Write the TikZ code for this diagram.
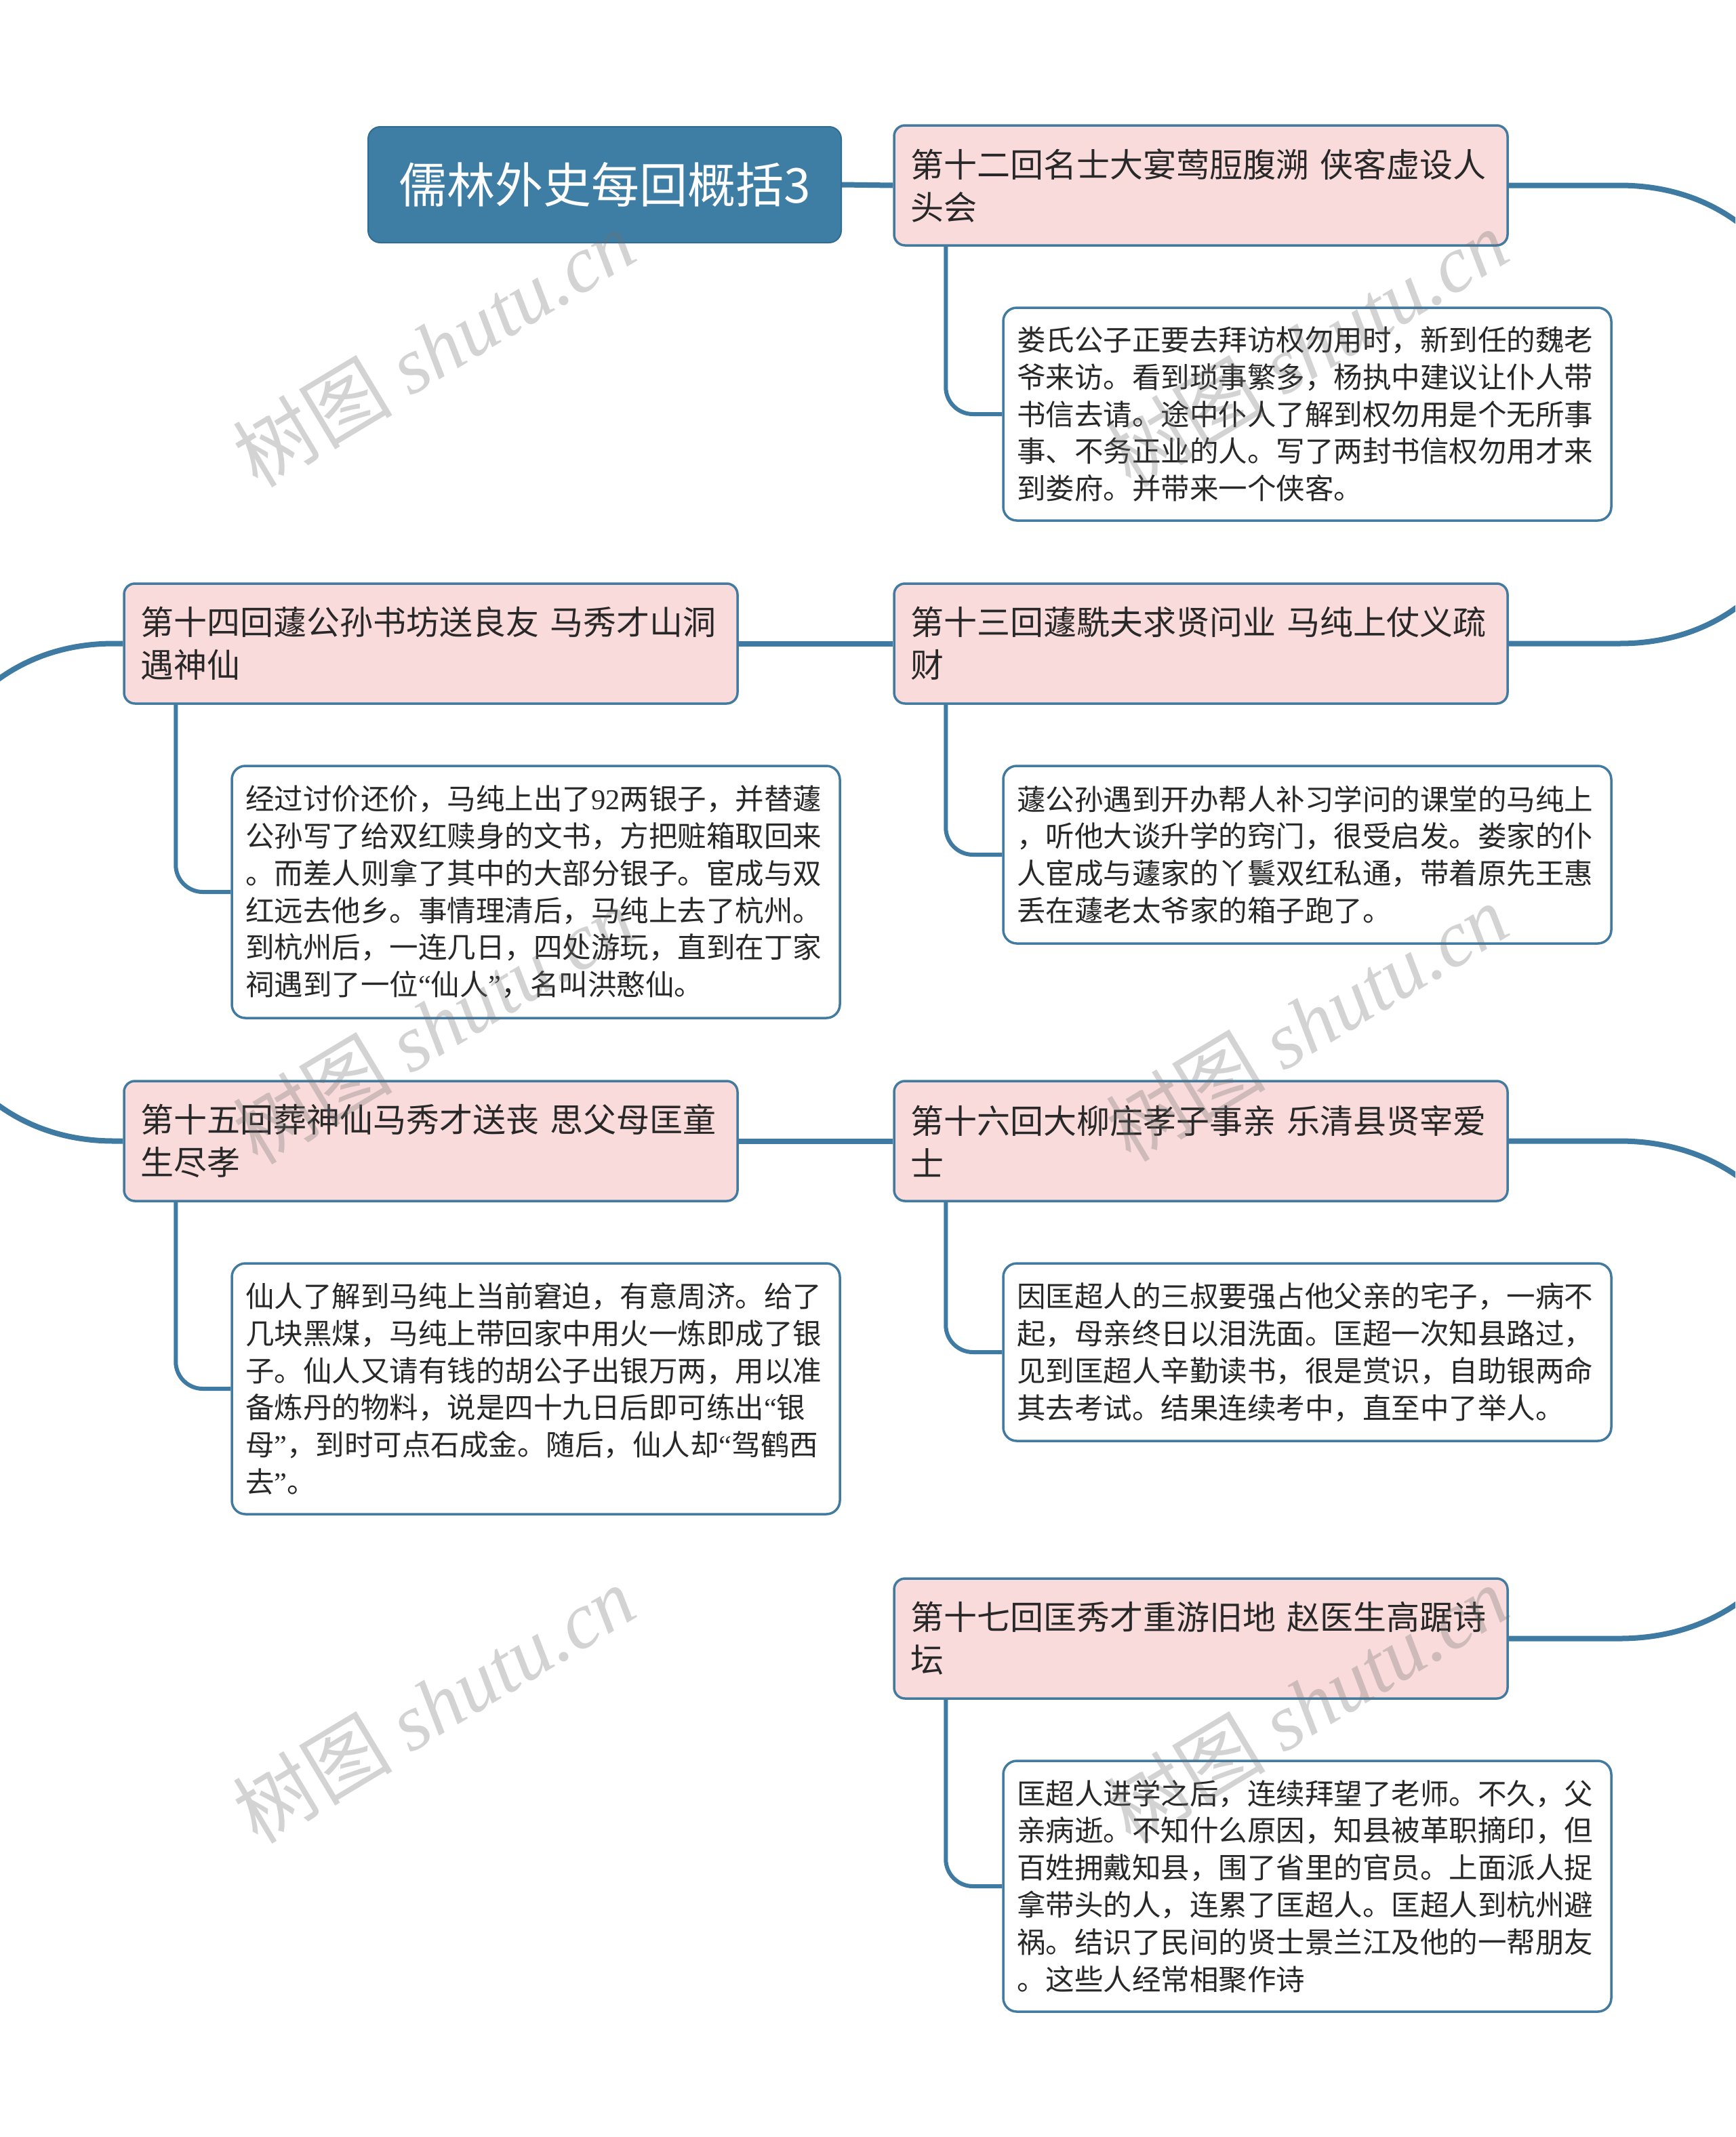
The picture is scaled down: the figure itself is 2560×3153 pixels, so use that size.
\documentclass[tikz,border=0pt]{standalone}
\usepackage{fontspec}
\setmainfont{Noto Sans CJK SC}
\newfontfamily\wmlatin{Liberation Serif}
\newfontfamily\numfont{Liberation Serif}
\newcommand\myqo{{\numfont “}}
\newcommand\myqc{{\numfont ”}}
\usetikzlibrary{backgrounds}
\definecolor{lineblue}{RGB}{62,122,162}
\definecolor{titlefill}{RGB}{62,126,164}
\definecolor{titledraw}{RGB}{50,108,145}
\definecolor{pinkfill}{RGB}{250,219,219}
\definecolor{boxdraw}{RGB}{66,122,160}
\definecolor{txt}{RGB}{40,40,40}
\definecolor{wm}{RGB}{110,110,110}
\begin{document}
\begin{tikzpicture}[x=1pt,y=-1pt,
 titlebox/.style={rectangle, rounded corners=18, fill=titlefill, draw=titledraw, line width=2, minimum width=698, minimum height=171, inner sep=0, text=white, font=\fontsize{71}{84}\selectfont},
 topic/.style={rectangle, rounded corners=16, fill=pinkfill, draw=boxdraw, line width=3.5, minimum width=905, minimum height=177, text width=857, inner xsep=24, inner ysep=0, align=left, text=txt, font=\fontsize{49}{63}\selectfont},
 detail/.style={rectangle, rounded corners=20, fill=white, draw=boxdraw, line width=3.5, minimum width=897, text width=857, inner xsep=20, inner ysep=0, align=left, text=txt, font=\fontsize{42.5}{54.8}\selectfont},
 mainline/.style={draw=lineblue, line width=8},
 childline/.style={draw=lineblue, line width=6, rounded corners=40},
 watermark/.style={text=wm, text opacity=0.3, rotate=31, font=\fontsize{118}{118}\selectfont}
]
\path[use as bounding box] (0,0) rectangle (2560,3153);

% main nodes
\node[titlebox] (title) at (892,272.5) {儒林外史每回概括3};
\node[topic] (n12) at (1771.5,273.5) {第十二回名士大宴莺脰腹溯 侠客虚设人\\头会};
\node[topic] (n13) at (1771.5,949.5) {第十三回蘧駪夫求贤问业 马纯上仗义疏\\财};
\node[topic] (n14) at (635.5,949.5) {第十四回蘧公孙书坊送良友 马秀才山洞\\遇神仙};
\node[topic] (n15) at (635.5,1683.5) {第十五回葬神仙马秀才送丧 思父母匡童\\生尽孝};
\node[topic] (n16) at (1771.5,1683.5) {第十六回大柳庄孝子事亲 乐清县贤宰爱\\士};
\node[topic] (n17) at (1771.5,2417.5) {第十七回匡秀才重游旧地 赵医生高踞诗\\坛};

% detail nodes
\node[detail, minimum height=314] (c12) at (1928.5,611) {娄氏公子正要去拜访权勿用时，新到任的魏老\\爷来访。看到琐事繁多，杨执中建议让仆人带\\书信去请。途中仆人了解到权勿用是个无所事\\事、不务正业的人。写了两封书信权勿用才来\\到娄府。并带来一个侠客。};
\node[detail, minimum height=262] (c13) at (1928.5,1261) {蘧公孙遇到开办帮人补习学问的课堂的马纯上\\，听他大谈升学的窍门，很受启发。娄家的仆\\人宦成与蘧家的丫鬟双红私通，带着原先王惠\\丢在蘧老太爷家的箱子跑了。};
\node[detail, minimum height=372] (c14) at (790.5,1316) {经过讨价还价，马纯上出了{\numfont 92}两银子，并替蘧\\公孙写了给双红赎身的文书，方把赃箱取回来\\。而差人则拿了其中的大部分银子。宦成与双\\红远去他乡。事情理清后，马纯上去了杭州。\\到杭州后，一连几日，四处游玩，直到在丁家\\祠遇到了一位\myqo 仙人\myqc，名叫洪憨仙。};
\node[detail, minimum height=370] (c15) at (790.5,2049) {仙人了解到马纯上当前窘迫，有意周济。给了\\几块黑煤，马纯上带回家中用火一炼即成了银\\子。仙人又请有钱的胡公子出银万两，用以准\\备炼丹的物料，说是四十九日后即可练出\myqo 银\\母\myqc，到时可点石成金。随后，仙人却\myqo 驾鹤西\\去\myqc。};
\node[detail, minimum height=262] (c16) at (1928.5,1995) {因匡超人的三叔要强占他父亲的宅子，一病不\\起，母亲终日以泪洗面。匡超一次知县路过，\\见到匡超人辛勤读书，很是赏识，自助银两命\\其去考试。结果连续考中，直至中了举人。};
\node[detail, minimum height=370] (c17) at (1928.5,2783) {匡超人进学之后，连续拜望了老师。不久，父\\亲病逝。不知什么原因，知县被革职摘印，但\\百姓拥戴知县，围了省里的官员。上面派人捉\\拿带头的人，连累了匡超人。匡超人到杭州避\\祸。结识了民间的贤士景兰江及他的一帮朋友\\。这些人经常相聚作诗};

% connectors
\begin{scope}[on background layer]
\fill[white] (0,0) rectangle (2560,3153);
\clip (0,0) rectangle (2560,3153);
\draw[mainline] (title.east) -- (n12.west);
\draw[mainline] (n12.east) -- ++(163,0) .. controls +(405,0) and +(405,0) .. ([xshift=163]n13.east) -- (n13.east);
\draw[mainline] (n13.west) -- (n14.east);
\draw[mainline] (n14.west) -- ++(-13,0) .. controls +(-415,0) and +(-415,0) .. ([xshift=-13]n15.west) -- (n15.west);
\draw[mainline] (n15.east) -- (n16.west);
\draw[mainline] (n16.east) -- ++(163,0) .. controls +(427,0) and +(427,0) .. ([xshift=163]n17.east) -- (n17.east);
\draw[childline] ([xshift=78]n12.south west) |- (c12.west);
\draw[childline] ([xshift=78]n13.south west) |- (c13.west);
\draw[childline] ([xshift=78]n14.south west) |- (c14.west);
\draw[childline] ([xshift=78]n15.south west) |- (c15.west);
\draw[childline] ([xshift=78]n16.south west) |- (c16.west);
\draw[childline] ([xshift=78]n17.south west) |- (c17.west);
\end{scope}

% watermarks
\node[watermark] (wm1) at (640,513) {树图 {\wmlatin\itshape shutu.cn}};
\node[watermark] (wm2) at (1928,513) {树图 {\wmlatin\itshape shutu.cn}};
\node[watermark] (wm3) at (640,1512) {树图 {\wmlatin\itshape shutu.cn}};
\node[watermark] (wm4) at (1928,1508) {树图 {\wmlatin\itshape shutu.cn}};
\node[watermark] (wm5) at (640,2514) {树图 {\wmlatin\itshape shutu.cn}};
\node[watermark] (wm6) at (1928,2514) {树图 {\wmlatin\itshape shutu.cn}};
\end{tikzpicture}
\end{document}
